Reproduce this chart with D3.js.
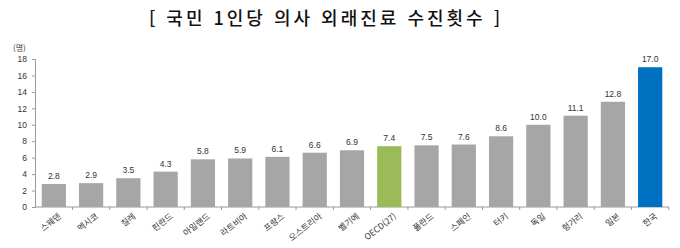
<!DOCTYPE html>
<html lang="ko">
<head>
  <meta charset="UTF-8" />
  <title>국민 1인당 의사 외래진료 수진횟수</title>
  <style>
    body { margin: 0; background: #fff; }
    svg text { font-family: 'Noto Sans CJK KR', 'Noto Sans', sans-serif; }
  </style>
</head>
<body>
  <svg id="chart" width="680" height="248"></svg>

  <script src="https://d3js.org/d3.v7.min.js"></script>
  <script>
    const countries = ["스웨덴", "멕시코", "칠레", "핀란드", "아일랜드", "라트비아", "프랑스", "오스트리아", "벨기에",
                       "OECD(27)", "폴란드", "스페인", "터키", "독일", "헝가리", "일본", "한국"];
    const visits = [2.8, 2.9, 3.5, 4.3, 5.8, 5.9, 6.1, 6.6, 6.9, 7.4, 7.5, 7.6, 8.6, 10.0, 11.1, 12.8, 17.0];
    const yTicks = [0, 2, 4, 6, 8, 10, 12, 14, 16, 18];

    const svg = d3.select("#chart");

    const x = d3.scaleBand()
      .domain(countries)
      .range([35, 669])
      .paddingInner(0.35)
      .paddingOuter(0.18);

    const y = d3.scaleLinear()
      .domain([0, 18])
      .range([207, 59]);

    function barColor(name) {
      if (name === "OECD(27)") return "#9bbb59";
      if (name === "한국") return "#0070c0";
      return "#a6a6a6";
    }

    // title
    svg.append("text")
      .attr("x", 326)
      .attr("y", 25)
      .attr("text-anchor", "middle")
      .style("font-size", "18px")
      .style("font-weight", "500")
      .style("letter-spacing", "3px")
      .style("fill", "#111")
      .text("[ 국민 1인당 의사 외래진료 수진횟수 ]");

    // unit
    svg.append("text")
      .attr("x", 13)
      .attr("y", 51)
      .style("font-size", "8px")
      .style("fill", "#333")
      .text("(명)");

    // y axis
    const yAxis = svg.append("g")
      .attr("transform", "translate(35,0)")
      .call(d3.axisLeft(y).tickValues(yTicks).tickSize(3).tickFormat(d3.format("d")));
    yAxis.select(".domain").attr("stroke", "#999");
    yAxis.selectAll(".tick line").attr("stroke", "#999");
    yAxis.selectAll(".tick text")
      .attr("x", -8)
      .style("font-family", "Arial, 'Liberation Sans', sans-serif")
      .style("font-size", "8.5px")
      .style("fill", "#333");

    // x axis with ticks between bars
    const step = x.step();
    const xAxis = svg.append("g");
    xAxis.append("line")
      .attr("x1", 35).attr("x2", 669)
      .attr("y1", y(0)).attr("y2", y(0))
      .attr("stroke", "#999");
    xAxis.selectAll("line.sep")
      .data(countries)
      .enter().append("line")
      .attr("class", "sep")
      .attr("x1", d => x(d) + x.bandwidth() + (step - x.bandwidth()) / 2)
      .attr("x2", d => x(d) + x.bandwidth() + (step - x.bandwidth()) / 2)
      .attr("y1", y(0)).attr("y2", y(0) + 3)
      .attr("stroke", "#999");

    // bars
    svg.selectAll("rect.bar")
      .data(countries)
      .enter().append("rect")
      .attr("class", "bar")
      .attr("x", d => x(d))
      .attr("width", x.bandwidth())
      .attr("y", (d, i) => y(visits[i]))
      .attr("height", (d, i) => y(0) - y(visits[i]))
      .attr("fill", d => barColor(d));

    // value labels
    svg.selectAll("text.val")
      .data(countries)
      .enter().append("text")
      .attr("class", "val")
      .attr("x", d => x(d) + x.bandwidth() / 2)
      .attr("y", (d, i) => y(visits[i]) - 5)
      .attr("text-anchor", "middle")
      .style("font-family", "Arial, 'Liberation Sans', sans-serif")
      .style("font-size", "8.5px")
      .style("fill", "#333")
      .text((d, i) => visits[i].toFixed(1));

    // category labels, rotated
    svg.selectAll("text.cat")
      .data(countries)
      .enter().append("text")
      .attr("class", "cat")
      .attr("transform", d => `translate(${x(d) + x.bandwidth() / 2 + 6},${y(0) + 8}) rotate(-38)`)
      .attr("text-anchor", "end")
      .attr("dy", "0.35em")
      .style("font-size", "8.5px")
      .style("fill", "#333")
      .text(d => d);
  </script>
</body>
</html>
